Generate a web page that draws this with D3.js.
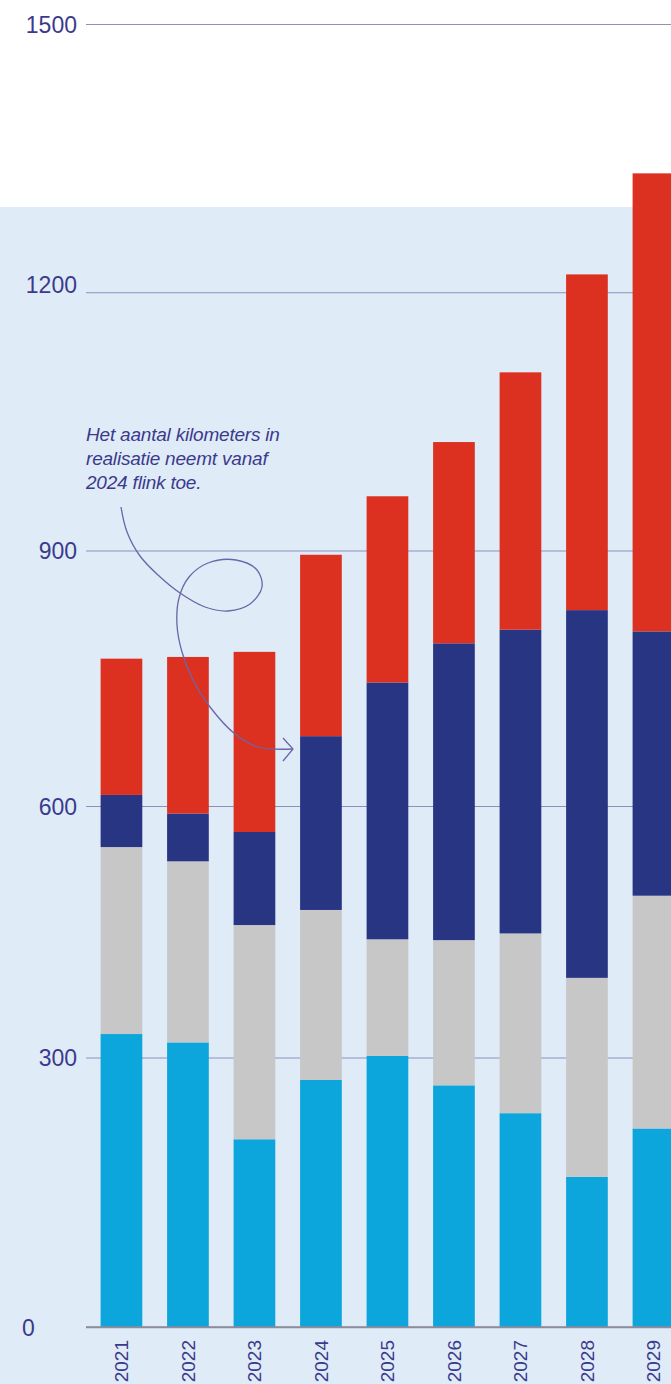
<!DOCTYPE html>
<html><head><meta charset="utf-8">
<script src="https://cdn.jsdelivr.net/npm/d3@7"></script>
<style>html,body{margin:0;padding:0;background:#fff;overflow:hidden}svg{display:block}</style>
</head><body>
<script>
// ---- data ----
const years = ["2021","2022","2023","2024","2025","2026","2027","2028","2029"];
const verkenning     = [328, 318, 209, 275, 302, 269, 238, 167, 221]; // light blue
const planuitwerking = [223, 216, 249, 201, 139, 171, 210, 228, 272]; // grey
const realisatie     = [ 62,  57, 111, 206, 304, 351, 359, 435, 312]; // dark blue
const gepland        = [160, 184, 212, 213, 218, 235, 300, 390, 528]; // red
const seriesKeys = ["verkenning","planuitwerking","realisatie","gepland"];
const seriesColors = ["#0ca6dd","#c7c7c8","#283583","#dc3120"];
const yTicks = [0, 300, 600, 900, 1200, 1500];
const annotationLines = ["Het aantal kilometers in","realisatie neemt vanaf","2024 flink toe."];

// ---- layout ----
const W = 671, H = 1384;
const ink = "#3c3a8c";
const svg = d3.select("body").append("svg").attr("width", W).attr("height", H);

svg.append("rect").attr("x",0).attr("y",0).attr("width",W).attr("height",H).attr("fill","#ffffff");
svg.append("rect").attr("x",0).attr("y",207).attr("width",W).attr("height",H-207).attr("fill","#dfecf8");

const rows = years.map((yr,i)=>({year:yr, verkenning:verkenning[i], planuitwerking:planuitwerking[i], realisatie:realisatie[i], gepland:gepland[i]}));
const stacked = d3.stack().keys(seriesKeys)(rows);

const x = d3.scaleBand().domain(years).range([88.2, 686.7]).paddingInner(0.373).paddingOuter(0.1865);
// scanned original: gridlines are not perfectly evenly spaced
const y = d3.scaleLinear().domain(yTicks).range([1327, 1057.5, 806, 550.5, 292.3, 24]);

const axisX0 = 86;
const gAxis = svg.append("g").attr("transform",`translate(${axisX0},0)`)
  .call(d3.axisLeft(y).tickValues(yTicks).tickSize(-(W-axisX0)).tickPadding(9).tickFormat(d3.format("d")));
gAxis.select(".domain").remove();
gAxis.selectAll(".tick line").attr("stroke","#8f8fbd").attr("stroke-width",1.1);
gAxis.selectAll(".tick text").attr("fill",ink).attr("font-family","'Liberation Sans', Arial, sans-serif")
  .attr("font-size",23).attr("dy","0.36em");
gAxis.selectAll(".tick").filter(d=>d===1200).select("text").attr("dy","0.0em");
gAxis.selectAll(".tick").filter(d=>d===0).select("text").attr("text-anchor","start").attr("x",22-axisX0);
gAxis.selectAll(".tick").filter(d=>d===0).select("line").attr("stroke","#8c8c9c").attr("stroke-width",1.6);

// bars
svg.append("g").selectAll("g").data(stacked).join("g")
  .attr("fill",(d,i)=>seriesColors[i])
  .selectAll("rect").data(d=>d).join("rect")
  .attr("x",d=>x(d.data.year))
  .attr("width",x.bandwidth())
  .attr("y",d=>y(d[1]))
  .attr("height",d=>y(d[0])-y(d[1]));

// baseline
svg.append("line").attr("x1",axisX0).attr("x2",W).attr("y1",y(0)).attr("y2",y(0))
  .attr("stroke","#8c8c9c").attr("stroke-width",1.6);

// year labels
svg.append("g").selectAll("text").data(years).join("text")
  .attr("transform",d=>`translate(${x(d)+x.bandwidth()/2},${y(0)+13}) rotate(-90)`)
  .attr("text-anchor","end").attr("dy","0.36em")
  .attr("fill",ink).attr("font-family","'Liberation Sans', Arial, sans-serif").attr("font-size",19)
  .text(d=>d);

// annotation
svg.append("g").selectAll("text").data(annotationLines).join("text")
  .attr("x",86).attr("y",(d,i)=>441+i*24)
  .attr("fill",ink).attr("font-family","'Liberation Sans', Arial, sans-serif")
  .attr("font-style","italic").attr("font-size",19).attr("letter-spacing","-0.2")
  .text(d=>d);

const curvePts = [[121,507],[127,532],[140,556],[158,575],[180,593],[205,607],[228,611],[250,604],[262,587],[257,570],[236,560],[208,563],[189,577],[179,598],[177,625],[182,652],[193,680],[210,707],[235,734],[258,747],[293,749]];
svg.append("path").attr("d", d3.line().curve(d3.curveCatmullRom.alpha(0.5))(curvePts))
  .attr("fill","none").attr("stroke","#6a66a8").attr("stroke-width",1.3);
svg.append("path").attr("d", d3.line()([[283,738],[293,749],[283,761]]))
  .attr("fill","none").attr("stroke","#6a66a8").attr("stroke-width",1.3);
</script>
</body></html>
